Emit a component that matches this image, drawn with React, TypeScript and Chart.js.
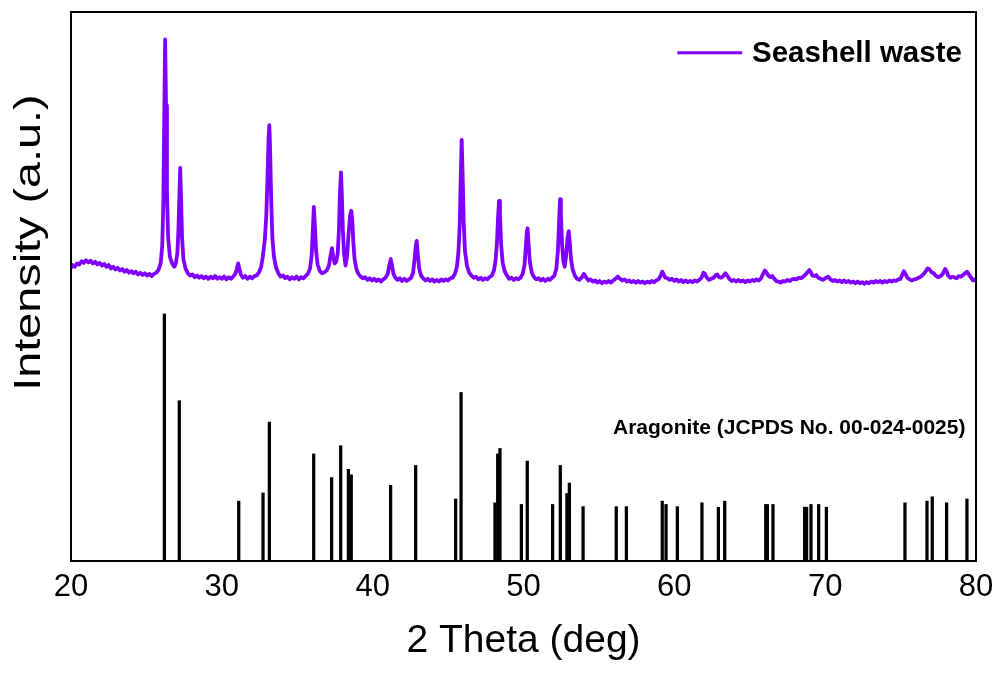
import React, { useEffect, useRef } from 'react';
import { Chart, registerables } from 'chart.js';

Chart.register(...registerables);

// Measured XRD pattern of the seashell waste: [2θ (deg), intensity (a.u., offset)]
const spectrum: [number, number][] = [
  [20.0, 53.4], [20.1, 53.9], [20.25, 53.6], [20.4, 54.2], [20.55, 54.0], [20.7, 54.6], [20.85, 54.3],
  [21.0, 54.8], [21.15, 54.4], [21.3, 54.7], [21.45, 54.2], [21.6, 54.5], [21.75, 54.0], [21.9, 54.3],
  [22.05, 53.8], [22.2, 54.1], [22.35, 53.6], [22.5, 53.9], [22.65, 53.3], [22.8, 53.6], [22.95, 53.1],
  [23.1, 53.4], [23.25, 52.9], [23.4, 53.2], [23.55, 52.7], [23.7, 53.0], [23.85, 52.5], [24.0, 52.8],
  [24.15, 52.4], [24.3, 52.7], [24.45, 52.2], [24.6, 52.5], [24.75, 52.1], [24.9, 52.4], [25.05, 52.0],
  [25.2, 52.3], [25.35, 51.9], [25.5, 52.3], [25.65, 52.5], [25.8, 53.0], [25.95, 54.3], [26.05, 57.5],
  [26.12, 65], [26.18, 80], [26.24, 95], [26.3, 83], [26.36, 67], [26.44, 59], [26.55, 55.5],
  [26.7, 54.2], [26.85, 53.6], [26.95, 54.2], [27.05, 56], [27.12, 60], [27.18, 66], [27.24, 71.6],
  [27.3, 66], [27.36, 59], [27.45, 55], [27.6, 53.2], [27.75, 52.4], [27.9, 52.0], [28.05, 52.2],
  [28.2, 51.7], [28.35, 52.0], [28.5, 51.6], [28.65, 51.9], [28.8, 51.5], [28.95, 51.8], [29.1, 51.4],
  [29.25, 51.8], [29.4, 51.5], [29.55, 51.9], [29.7, 51.4], [29.85, 51.7], [30.0, 51.4], [30.15, 51.8],
  [30.3, 51.3], [30.45, 51.7], [30.6, 51.4], [30.75, 51.8], [30.9, 52.3], [31.0, 53.3], [31.08, 54.2],
  [31.16, 53.3], [31.25, 52.2], [31.4, 51.6], [31.55, 51.9], [31.7, 51.4], [31.85, 51.8], [32.0, 51.5],
  [32.15, 51.9], [32.3, 52.0], [32.45, 52.5], [32.6, 53.5], [32.72, 55.5], [32.85, 58.5], [32.95, 63],
  [33.03, 70], [33.1, 77], [33.15, 79.4], [33.2, 75], [33.27, 66], [33.35, 59], [33.45, 55.5],
  [33.6, 53.4], [33.75, 52.4], [33.9, 51.8], [34.05, 52.0], [34.2, 51.5], [34.35, 51.8], [34.5, 51.3],
  [34.65, 51.7], [34.8, 51.4], [34.95, 51.8], [35.1, 51.3], [35.25, 51.7], [35.4, 51.5], [35.55, 51.9],
  [35.7, 52.3], [35.85, 53.3], [35.95, 55.5], [36.03, 60], [36.1, 64.5], [36.17, 61], [36.25, 56.5],
  [36.35, 54], [36.5, 52.8], [36.65, 52.4], [36.8, 52.6], [36.95, 52.9], [37.1, 53.8], [37.2, 55.5],
  [37.3, 57], [37.38, 55.5], [37.48, 54.2], [37.58, 54.5], [37.68, 56], [37.76, 60], [37.83, 67],
  [37.9, 70.8], [37.96, 66.5], [38.03, 60], [38.1, 56], [38.2, 53.8], [38.3, 55.5], [38.4, 59.5],
  [38.5, 62.8], [38.58, 63.8], [38.65, 62], [38.72, 58], [38.8, 55], [38.92, 53.2], [39.05, 52.3],
  [39.2, 51.8], [39.35, 51.5], [39.5, 51.7], [39.65, 51.2], [39.8, 51.5], [39.95, 51.1], [40.1, 51.4],
  [40.25, 51.0], [40.4, 51.3], [40.55, 50.9], [40.7, 51.3], [40.85, 51.6], [41.0, 52.3], [41.1, 53.8],
  [41.2, 55], [41.28, 53.8], [41.38, 52.3], [41.5, 51.6], [41.65, 51.2], [41.8, 51.5], [41.95, 51.0],
  [42.1, 51.4], [42.25, 51.0], [42.4, 51.3], [42.55, 51.6], [42.68, 52.5], [42.78, 55], [42.86, 57.5],
  [42.92, 58.3], [42.99, 56], [43.08, 53.3], [43.2, 52.0], [43.35, 51.5], [43.5, 51.1], [43.65, 51.4],
  [43.8, 51.0], [43.95, 51.3], [44.1, 50.9], [44.25, 51.2], [44.4, 50.9], [44.55, 51.3], [44.7, 51.0],
  [44.85, 51.3], [45.0, 51.1], [45.15, 51.5], [45.3, 51.6], [45.45, 52.3], [45.58, 53.5], [45.68, 56],
  [45.77, 61], [45.84, 70], [45.9, 76.7], [45.96, 71], [46.03, 62], [46.12, 56.5], [46.25, 53.8],
  [46.4, 52.5], [46.55, 52.0], [46.7, 51.6], [46.85, 51.8], [47.0, 51.3], [47.15, 51.6], [47.3, 51.2],
  [47.45, 51.5], [47.6, 51.3], [47.75, 51.7], [47.9, 52.0], [48.05, 53.0], [48.15, 54.8], [48.24, 58],
  [48.32, 63], [48.38, 65.6], [48.44, 63], [48.52, 57.5], [48.62, 54.3], [48.75, 52.8], [48.9, 52.0],
  [49.05, 51.4], [49.2, 51.6], [49.35, 51.2], [49.5, 51.5], [49.65, 51.3], [49.8, 51.6], [49.95, 52.3],
  [50.07, 54], [50.16, 57.5], [50.22, 60], [50.27, 60.6], [50.33, 58], [50.42, 54.5], [50.55, 52.5],
  [50.7, 51.7], [50.85, 51.3], [51.0, 51.5], [51.15, 51.1], [51.3, 51.4], [51.45, 51.0], [51.6, 51.4],
  [51.75, 51.2], [51.9, 51.6], [52.05, 52.0], [52.18, 53.3], [52.28, 56.5], [52.35, 61], [52.42, 65.9],
  [52.48, 63], [52.56, 57.5], [52.65, 54.5], [52.73, 53.6], [52.82, 55.5], [52.92, 58.8], [53.0, 60.1],
  [53.07, 58], [53.15, 55], [53.25, 53.2], [53.4, 52.0], [53.55, 51.4], [53.7, 51.2], [53.85, 51.6],
  [54.0, 52.3], [54.12, 51.8], [54.3, 51.1], [54.45, 51.3], [54.6, 50.9], [54.75, 51.1], [54.9, 50.7],
  [55.05, 51.0], [55.2, 50.6], [55.35, 50.9], [55.5, 50.7], [55.65, 51.0], [55.8, 50.7], [55.95, 51.1],
  [56.1, 51.4], [56.25, 51.8], [56.4, 51.4], [56.55, 51.1], [56.7, 51.3], [56.85, 50.9], [57.0, 51.1],
  [57.15, 50.8], [57.3, 51.0], [57.45, 50.7], [57.6, 51.0], [57.75, 50.7], [57.9, 50.9], [58.05, 50.6],
  [58.2, 50.9], [58.35, 50.7], [58.5, 51.0], [58.65, 50.8], [58.8, 51.1], [58.95, 51.3], [59.1, 52.0],
  [59.2, 52.7], [59.3, 52.2], [59.4, 51.6], [59.55, 51.5], [59.7, 51.2], [59.85, 51.4], [60.0, 51.0],
  [60.15, 51.3], [60.3, 50.9], [60.45, 51.2], [60.6, 50.8], [60.75, 51.1], [60.9, 50.8], [61.05, 51.0],
  [61.2, 50.8], [61.35, 51.1], [61.5, 50.9], [61.65, 51.2], [61.8, 51.6], [61.93, 52.5], [62.03, 52.3],
  [62.15, 51.6], [62.3, 51.2], [62.45, 51.4], [62.6, 51.6], [62.75, 52.1], [62.85, 52.2], [62.95, 51.7],
  [63.1, 51.6], [63.25, 51.9], [63.38, 52.4], [63.5, 52.0], [63.65, 51.4], [63.8, 51.0], [63.95, 51.2],
  [64.1, 50.9], [64.25, 51.2], [64.4, 50.9], [64.55, 51.1], [64.7, 50.8], [64.85, 51.1], [65.0, 50.9],
  [65.15, 51.2], [65.3, 51.0], [65.45, 51.3], [65.6, 51.1], [65.75, 51.5], [65.9, 52.4], [66.0, 52.9],
  [66.1, 52.6], [66.22, 52.0], [66.35, 51.7], [66.5, 51.9], [66.6, 51.5], [66.75, 51.0], [66.9, 50.9],
  [67.05, 50.7], [67.2, 51.0], [67.35, 50.9], [67.5, 51.2], [67.65, 51.0], [67.8, 51.3], [67.95, 51.4],
  [68.1, 51.3], [68.25, 51.6], [68.4, 51.5], [68.55, 51.8], [68.7, 52.2], [68.85, 52.7], [68.95, 53.0],
  [69.05, 52.6], [69.15, 52.0], [69.3, 51.9], [69.4, 52.1], [69.55, 51.6], [69.7, 51.4], [69.85, 51.2],
  [70.0, 51.5], [70.2, 51.8], [70.35, 51.3], [70.5, 51.0], [70.65, 51.2], [70.8, 50.9], [70.95, 51.1],
  [71.1, 50.8], [71.25, 51.1], [71.4, 50.8], [71.55, 51.0], [71.7, 50.7], [71.85, 50.9], [72.0, 50.6],
  [72.15, 50.9], [72.3, 50.6], [72.45, 50.8], [72.6, 50.5], [72.75, 50.8], [72.9, 50.6], [73.05, 50.9],
  [73.2, 50.7], [73.35, 51.0], [73.5, 50.8], [73.65, 51.0], [73.8, 50.7], [73.95, 51.0], [74.1, 50.8],
  [74.25, 51.1], [74.4, 50.9], [74.55, 51.1], [74.7, 51.0], [74.85, 51.3], [75.0, 51.4], [75.12, 52.2],
  [75.22, 52.8], [75.32, 52.3], [75.45, 51.6], [75.6, 51.3], [75.75, 51.1], [75.9, 51.3], [76.05, 51.4],
  [76.2, 51.6], [76.35, 51.8], [76.5, 52.2], [76.65, 52.7], [76.8, 53.3], [76.92, 53.1], [77.05, 52.6],
  [77.2, 52.4], [77.35, 51.9], [77.5, 51.7], [77.65, 51.9], [77.8, 52.3], [77.95, 53.2], [78.05, 52.8],
  [78.15, 52.0], [78.3, 51.6], [78.45, 51.8], [78.6, 51.6], [78.72, 51.5], [78.85, 51.9], [79.0, 51.8],
  [79.15, 52.1], [79.3, 52.5], [79.4, 52.7], [79.5, 52.3], [79.65, 51.7], [79.8, 51.1], [79.9, 51.3],
  [80.0, 51.0],
];

// Aragonite reference lines (JCPDS 00-024-0025)
const stickTheta = [
  26.19, 27.18, 31.12, 32.73, 33.15, 36.09, 37.28, 37.88, 38.39, 38.58, 41.19, 42.85,
  45.5, 45.86, 48.11, 48.29, 48.44, 49.86, 50.25, 51.93, 52.44, 52.88, 53.04, 53.95,
  56.15, 56.82, 59.2, 59.45, 60.2, 61.83, 62.92, 63.34, 66.06, 66.17, 66.54, 68.64,
  68.77, 69.06, 69.57, 70.08, 75.29, 76.75, 77.1, 78.05, 79.4,
];
const stickIntensity = [
  45, 29.2, 10.9, 12.4, 25.3, 19.5, 15.2, 21.0, 16.7, 15.7, 13.8, 17.4,
  11.3, 30.7, 10.6, 19.5, 20.5, 10.3, 18.2, 10.3, 17.4, 12.3, 14.2, 9.9,
  9.9, 9.9, 10.9, 10.3, 9.9, 10.6, 9.8, 10.9, 10.3, 10.3, 10.3, 9.8,
  9.8, 10.3, 10.3, 9.8, 10.6, 10.9, 11.7, 10.6, 11.3,
];

const xTickValues = [20, 30, 40, 50, 60, 70, 80];
const seriesLabel = 'Seashell waste';
const referenceLabel = 'Aragonite (JCPDS No. 00-024-0025)';
const xTitle = '2 Theta (deg)';
const yTitle = 'Intensity (a.u.)';

const LINE_COLOR = '#8000ff';
const FONT = '"Liberation Sans", Arial, Helvetica, sans-serif';

const decorPlugin = {
  id: 'decor',
  afterDatasetsDraw(chart: any) {
    const { ctx, chartArea: a, scales } = chart;
    const x = scales.x;
    const y = scales.y;
    ctx.save();
    // frame
    ctx.strokeStyle = '#000';
    ctx.lineWidth = 2;
    ctx.strokeRect(a.left, a.top, a.right - a.left, a.bottom - a.top);
    // legend
    const ly = y.getPixelForValue(92.6);
    ctx.strokeStyle = LINE_COLOR;
    ctx.lineWidth = 3;
    ctx.beginPath();
    ctx.moveTo(x.getPixelForValue(60.2), ly);
    ctx.lineTo(x.getPixelForValue(64.5), ly);
    ctx.stroke();
    ctx.fillStyle = '#000';
    ctx.font = `bold 29.5px ${FONT}`;
    ctx.textAlign = 'left';
    ctx.textBaseline = 'middle';
    ctx.fillText(seriesLabel, x.getPixelForValue(65.15), ly + 1);
    // reference annotation
    ctx.font = `bold 21px ${FONT}`;
    ctx.textAlign = 'right';
    ctx.fillText(referenceLabel, x.getPixelForValue(79.3), y.getPixelForValue(24.2));
    ctx.restore();

    // y title (drawn stretched along its length like the source figure)
    ctx.save();
    ctx.fillStyle = '#000';
    ctx.translate(30, y.getPixelForValue(58));
    ctx.rotate(-Math.PI / 2);
    ctx.scale(1.3, 1);
    ctx.font = `36px ${FONT}`;
    ctx.textAlign = 'center';
    ctx.textBaseline = 'middle';
    ctx.fillText(yTitle, 0, 0);
    ctx.restore();
  },
};

export default function App() {
  const canvasRef = useRef<HTMLCanvasElement | null>(null);

  useEffect(() => {
    if (!canvasRef.current) return;
    const chart = new Chart(canvasRef.current, {
      type: 'line',
      data: {
        datasets: [
          {
            type: 'line',
            label: seriesLabel,
            data: spectrum.map(([t, v]) => ({ x: t, y: v })),
            borderColor: LINE_COLOR,
            borderWidth: 3.8,
            borderJoinStyle: 'round',
            borderCapStyle: 'round',
            pointRadius: 0,
            tension: 0,
            fill: false,
          } as any,
          {
            type: 'bar',
            label: 'Aragonite',
            data: stickTheta.map((t, i) => ({ x: t, y: stickIntensity[i] })),
            backgroundColor: '#000',
            borderWidth: 0,
            barThickness: 2.6,
            grouped: false,
          } as any,
        ],
      },
      options: {
        animation: false,
        responsive: false,
        maintainAspectRatio: false,
        layout: { padding: { left: 0, right: 23, top: 12, bottom: 0 } },
        plugins: {
          legend: { display: false },
          tooltip: { enabled: false },
        },
        scales: {
          x: {
            type: 'linear',
            min: 20,
            max: 80,
            offset: false,
            grid: { display: false, drawTicks: false },
            border: { display: false },
            afterBuildTicks: (scale: any) => {
              scale.ticks = xTickValues.map((v) => ({ value: v }));
            },
            afterFit: (scale: any) => {
              scale.height = 112;
              scale.paddingLeft = 0;
              scale.paddingRight = 0;
            },
            ticks: {
              autoSkip: false,
              maxRotation: 0,
              padding: 8,
              color: '#000',
              font: { family: FONT, size: 31 },
            },
            title: {
              display: true,
              text: xTitle,
              color: '#000',
              font: { family: FONT, size: 39 },
              padding: { top: 0, bottom: 8 },
            },
          },
          y: {
            type: 'linear',
            min: 0,
            max: 100,
            grid: { display: false, drawTicks: false },
            border: { display: false },
            ticks: { display: false },
            afterFit: (scale: any) => {
              scale.width = 71;
            },
            title: { display: false },
          },
        },
      },
      plugins: [decorPlugin],
    });
    return () => chart.destroy();
  }, []);

  return (
    <div style={{ position: 'absolute', left: 0, top: 0, width: 999, height: 673, background: '#fff' }}>
      <canvas ref={canvasRef} width={999} height={673} />
    </div>
  );
}
